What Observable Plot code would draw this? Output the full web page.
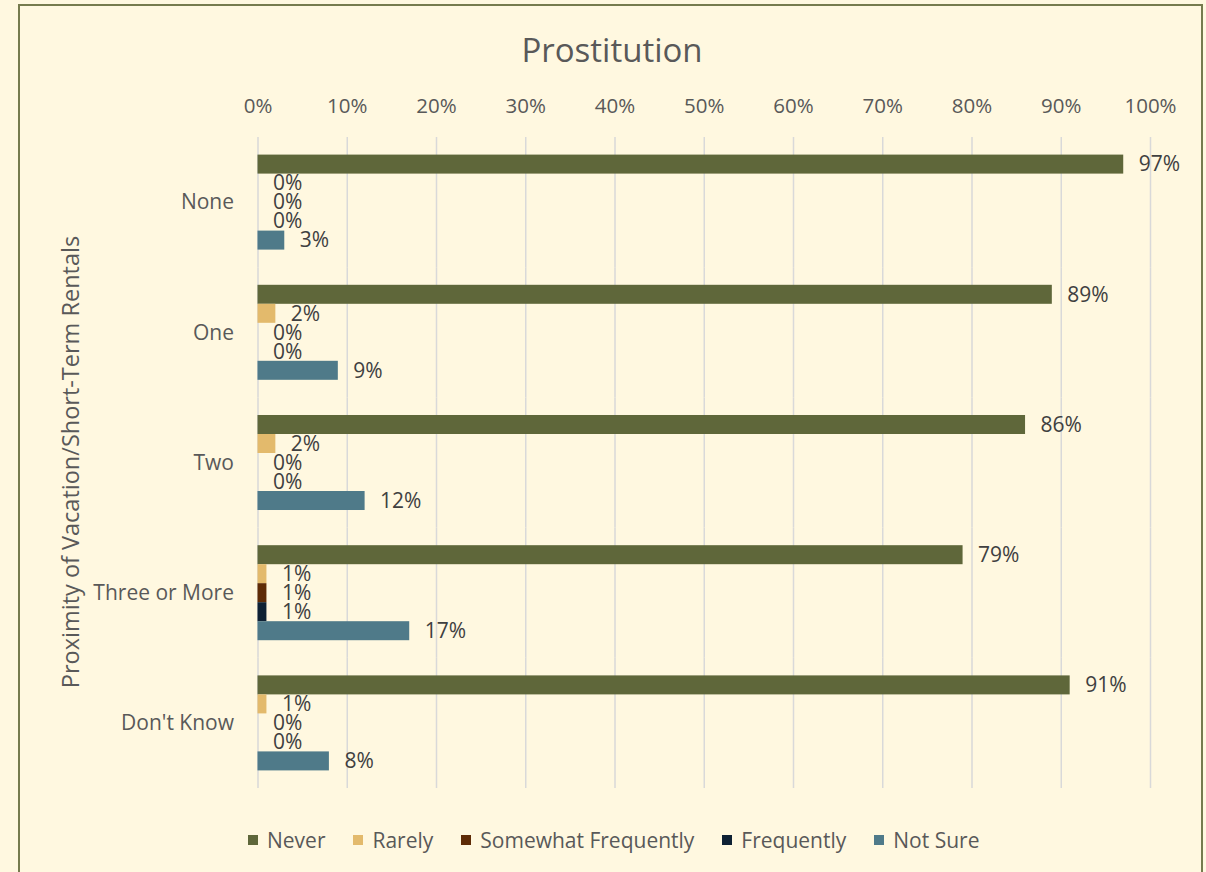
<!DOCTYPE html>
<html>
<head>
<meta charset="utf-8">
<script src="https://cdn.jsdelivr.net/npm/d3@7"></script>
<script src="https://cdn.jsdelivr.net/npm/@observablehq/plot@0.6"></script>
<style>
  html, body { margin: 0; padding: 0; background: #FFF8E0; }
  body { width: 1206px; height: 872px; position: relative; overflow: hidden; font-family: "Open Sans", sans-serif; color: #595959; }
  #frame { position: absolute; left: 18px; top: 4px; width: 1185px; height: 900px; border: 2px solid #767B4E; box-sizing: border-box; }
  #title { position: absolute; left: 0; width: 1224px; top: 28px; text-align: center; font-size: 33px; line-height: 44px; color: #595959; }
  #chart { position: absolute; left: 0; top: 0; }
  #ytitle { position: absolute; left: 70px; top: 462px; transform: translate(-50%, -50%) rotate(-90deg); white-space: nowrap; font-size: 23.5px; line-height: 28px; }
  #legend { position: absolute; left: 248px; top: 825px; display: flex; align-items: center; font-size: 21px; line-height: 30px; white-space: nowrap; }
  .item { display: flex; align-items: center; margin-right: 28px; }
  .sw { width: 10px; height: 10px; margin-right: 9px; }
</style>
</head>
<body>
<div id="frame"></div>
<div id="title">Prostitution</div>
<div id="chart"></div>
<div id="ytitle">Proximity of Vacation/Short-Term Rentals</div>
<div id="legend"></div>
<script>
const categories = ["None", "One", "Two", "Three or More", "Don't Know"];
const series = ["Never", "Rarely", "Somewhat Frequently", "Frequently", "Not Sure"];
const colors = ["#5F673A", "#E3BA6C", "#5E2B06", "#0E2134", "#4F7A89"];
const xTicks = [0, 10, 20, 30, 40, 50, 60, 70, 80, 90, 100];
// values in percent, per category, in series order
const neverVals      = [97, 89, 86, 79, 91];
const rarelyVals     = [0, 2, 2, 1, 1];
const somewhatVals   = [0, 0, 0, 1, 0];
const frequentlyVals = [0, 0, 0, 1, 0];
const notSureVals    = [3, 9, 12, 17, 8];

const seriesValues = [neverVals, rarelyVals, somewhatVals, frequentlyVals, notSureVals];
const data = [];
categories.forEach((cat, i) => {
  series.forEach((s, j) => data.push({cat, series: s, value: seriesValues[j][i]}));
});

const chart = Plot.plot({
  width: 1206,
  height: 788,
  marginTop: 137,
  marginBottom: 0,
  marginLeft: 257.5,
  marginRight: 56,
  style: {background: "transparent", fontFamily: "Open Sans, sans-serif", fontSize: "21px", color: "#595959"},
  x: {domain: [0, 100], axis: null},
  y: {domain: series, axis: null, paddingInner: 0, paddingOuter: 0.926, round: false},
  fy: {domain: categories, padding: 0, axis: null, round: false},
  color: {domain: series, range: colors},
  marks: [
    Plot.gridX(xTicks, {stroke: "#D9D9D9", strokeOpacity: 1, strokeWidth: 1.5}),
    Plot.axisX(xTicks, {anchor: "top", tickSize: 0, tickPadding: 25, label: null, tickFormat: d => d + "%", fontSize: 20.5, fill: "#595959"}),
    Plot.axisFy({anchor: "left", tickSize: 0, tickPadding: 24, label: null, fontSize: 21, fill: "#595959"}),
    Plot.barX(data, {x: "value", y: "series", fy: "cat", fill: "series"}),
    Plot.text(data, {x: "value", y: "series", fy: "cat", text: d => d.value + "%", dx: 15, textAnchor: "start", fill: "#404040", fontSize: 21})
  ]
});
document.getElementById("chart").appendChild(chart);

const legend = document.getElementById("legend");
series.forEach((s, i) => {
  const item = document.createElement("div");
  item.className = "item";
  const sw = document.createElement("div");
  sw.className = "sw";
  sw.style.background = colors[i];
  const t = document.createElement("span");
  t.textContent = s;
  item.appendChild(sw);
  item.appendChild(t);
  legend.appendChild(item);
});
</script>
</body>
</html>
